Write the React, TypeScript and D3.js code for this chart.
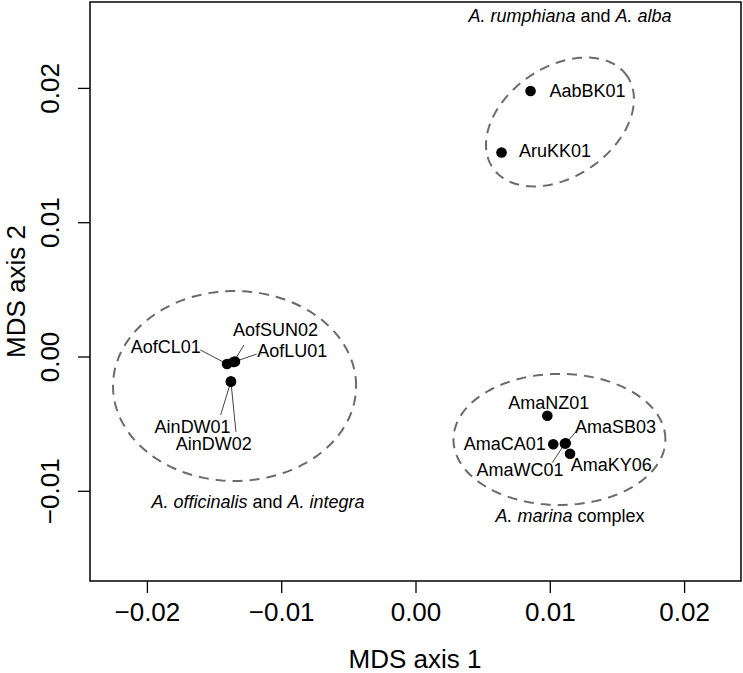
import React from "react";
import * as d3 from "d3";

// ---- data ----
const sampleNames = ["AabBK01","AruKK01","AofCL01","AofSUN02","AofLU01","AinDW01","AinDW02","AmaNZ01","AmaCA01","AmaSB03","AmaWC01","AmaKY06"];
const axis1 = [0.00853,0.00637,-0.01407,-0.01359,-0.01348,-0.01378,-0.01378,0.00978,0.01022,0.01115,0.01109,0.01147];
const axis2 = [0.01981,0.01523,-0.00052,-0.00037,-0.00034,-0.00182,-0.00183,-0.00437,-0.00650,-0.00643,-0.00644,-0.00720];
const xTicks = [-0.02,-0.01,0,0.01,0.02];
const yTicks = [-0.01,0,0.01,0.02];

// group ellipses (data units)
const groupNames = [["A. rumphiana"," and ","A. alba"],["A. officinalis"," and ","A. integra"],["A. marina"," complex",""]];
const ellCx = [0.01072,-0.01351,0.01068];
const ellCy = [0.01750,-0.00216,-0.00614];
const ellA = [0.00606,0.00905,0.00789];
const ellB = [0.00408,0.00707,0.00488];
const ellAngle = [34.3,0,0];
const groupLabelX = [0.01147,-0.01176,0.01147];
const groupLabelY = [0.02539,-0.01077,-0.01184];

// label layout (pixel offsets from point): text center dx,dy; optional leader start
const labelDx = [57,53.5,-61.2,42,57.2,-38.3,-17.2,1.4,-48.6,49.8,-45,41.2];
const labelDy = [0,-1.5,-17.3,-32,-10.8,45.2,61.8,-13.4,-1,-16.6,26.5,10.6];
const leader: (number[] | null)[] = [null,null,[-26.7,-14],[10.5,-17],[21.7,-7.5],[-10.3,33.5],[5,50.2],null,null,[11,-12.6],[-12.7,19.2],null];

const W = 743, H = 673;
const L = 90, R = 741, T = 2, B = 581;
const k = 13430; // px per unit
const x = d3.scaleLinear().domain([(L - 416) / k, (R - 416) / k]).range([L, R]);
const y = d3.scaleLinear().domain([(357 - B) / k, (357 - T) / k]).range([B, T]);
const fmt = d3.format(".2f");
const FONT = "'Liberation Sans', Arial, Helvetica, sans-serif";

function ellipsePath(i: number) {
  const th = (ellAngle[i] * Math.PI) / 180;
  const pts: [number, number][] = d3.range(0, 361, 2).map((deg) => {
    const t = (deg * Math.PI) / 180;
    const ex = ellA[i] * Math.cos(t), ey = ellB[i] * Math.sin(t);
    return [ellCx[i] + ex * Math.cos(th) - ey * Math.sin(th), ellCy[i] + ex * Math.sin(th) + ey * Math.cos(th)];
  });
  return d3.line<[number, number]>().x((d) => x(d[0])).y((d) => y(d[1]))(pts) || "";
}

export default function App() {
  return (
    <svg width={W} height={H} style={{ display: "block", position: "absolute", left: 0, top: 0, background: "#fff" }} fontFamily={FONT}>
      <rect x={0} y={0} width={W} height={H} fill="#fff" />
      {/* ellipses */}
      {ellCx.map((_, i) => (
        <path key={"e" + i} d={ellipsePath(i)} fill="none" stroke="#6b6b6b" strokeWidth={2} strokeDasharray="10 7" />
      ))}
      {/* leader lines */}
      {sampleNames.map((_, i) => {
        const l = leader[i];
        if (!l) return null;
        const px = x(axis1[i]), py = y(axis2[i]);
        return <line key={"l" + i} x1={px + l[0]} y1={py + l[1]} x2={px} y2={py} stroke="#444" strokeWidth={1} />;
      })}
      {/* points */}
      {sampleNames.map((_, i) => (
        <circle key={"p" + i} cx={x(axis1[i])} cy={y(axis2[i])} r={5.3} fill="#000" />
      ))}
      {/* labels */}
      {sampleNames.map((n, i) => (
        <text key={"t" + i} x={x(axis1[i]) + labelDx[i]} y={y(axis2[i]) + labelDy[i]} dy="0.35em" textAnchor="middle" fontSize={18} fill="#000">{n}</text>
      ))}
      {/* group labels */}
      {groupNames.map((g, i) => (
        <text key={"g" + i} x={x(groupLabelX[i])} y={y(groupLabelY[i])} dy="0.35em" textAnchor="middle" fontSize={18} fill="#000">
          <tspan fontStyle="italic">{g[0]}</tspan>
          <tspan>{g[1]}</tspan>
          {g[2] ? <tspan fontStyle="italic">{g[2]}</tspan> : null}
        </text>
      ))}
      {/* box */}
      <rect x={L} y={T} width={R - L} height={B - T} fill="none" stroke="#000" strokeWidth={1.5} />
      {/* x axis */}
      {xTicks.map((t) => (
        <g key={"xt" + t}>
          <line x1={x(t)} x2={x(t)} y1={B} y2={B + 12} stroke="#000" strokeWidth={1.3} />
          <text x={x(t)} y={B + 31} dy="0.35em" textAnchor="middle" fontSize={26}>{fmt(t)}</text>
        </g>
      ))}
      {/* y axis */}
      {yTicks.map((t) => (
        <g key={"yt" + t}>
          <line x1={L - 12} x2={L} y1={y(t)} y2={y(t)} stroke="#000" strokeWidth={1.3} />
          <text transform={`translate(${L - 40},${y(t)}) rotate(-90)`} dy="0.35em" textAnchor="middle" fontSize={26}>{fmt(t)}</text>
        </g>
      ))}
      <text x={(L + R) / 2 - 0.5} y={659} dy="0.35em" textAnchor="middle" fontSize={26}>MDS axis 1</text>
      <text transform={`translate(16,${(T + B) / 2}) rotate(-90)`} dy="0.35em" textAnchor="middle" fontSize={26}>MDS axis 2</text>
    </svg>
  );
}
